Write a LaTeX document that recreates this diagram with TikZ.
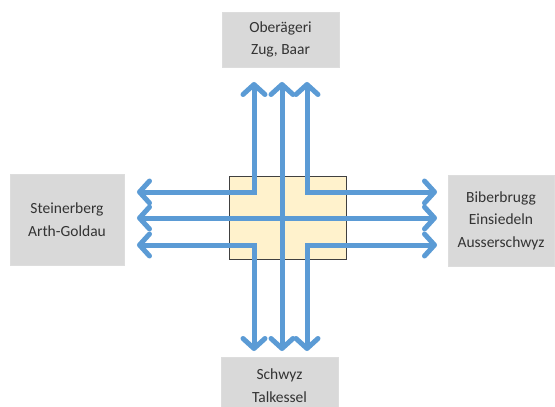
\documentclass[tikz,border=0pt]{standalone}
\usepackage{fontspec}
\setmainfont{Carlito}
\usetikzlibrary{arrows.meta}
\definecolor{route}{HTML}{5B9BD5}
\definecolor{boxgray}{HTML}{D9D9D9}
\definecolor{centerfill}{HTML}{FFF2CC}
\definecolor{txt}{HTML}{333333}
\tikzset{
  region/.style={fill=boxgray, draw=boxgray!90!white, inner sep=0pt, align=center,
    text=txt, font=\fontsize{15.5}{22.5}\selectfont},
  routeline/.style={draw=route, line width=5pt, line join=miter,
    {Straight Barb[length=10pt,width=22pt,round]}-{Straight Barb[length=10pt,width=22pt,round]}},
}
\begin{document}
\begin{tikzpicture}[x=1pt,y=-1pt]
\useasboundingbox (0,0) rectangle (555,407);
\clip (0,0) rectangle (555,407);
% regions
\node[region, minimum width=117pt, minimum height=55pt] (top) at (280.5,39.5) {Oberägeri\\Zug, Baar};
\node[region, minimum width=114pt, minimum height=91pt] (left) at (67,219.5) {Steinerberg\\Arth-Goldau};
\node[region, minimum width=106pt, minimum height=91pt] (right) at (501,220.5) {Biberbrugg\\Einsiedeln\\Ausserschwyz};
\node[region, minimum width=117pt, minimum height=56pt] (bottom) at (279.5,385.5) {Schwyz\\Talkessel};
% centre
\node[draw=black!75, fill=centerfill, line width=0.8pt, minimum width=117pt, minimum height=83pt, inner sep=0pt] (center) at (287.5,217.5) {};
% route ends
\coordinate (t1) at (254,82);  \coordinate (t2) at (282,82);  \coordinate (t3) at (307,82);
\coordinate (b1) at (254,351); \coordinate (b2) at (282,351); \coordinate (b3) at (307,351);
\coordinate (l1) at (137,192); \coordinate (l2) at (137,218); \coordinate (l3) at (137,245);
\coordinate (r1) at (437,192); \coordinate (r2) at (437,218); \coordinate (r3) at (437,245);
% routes
\draw[routeline] (t1) |- (l1);
\draw[routeline] (t3) |- (r1);
\draw[routeline] (l3) -| (b1);
\draw[routeline] (r3) -| (b3);
\draw[routeline] (l2) -- (r2);
\draw[routeline] (t2) -- (b2);
\end{tikzpicture}
\end{document}
